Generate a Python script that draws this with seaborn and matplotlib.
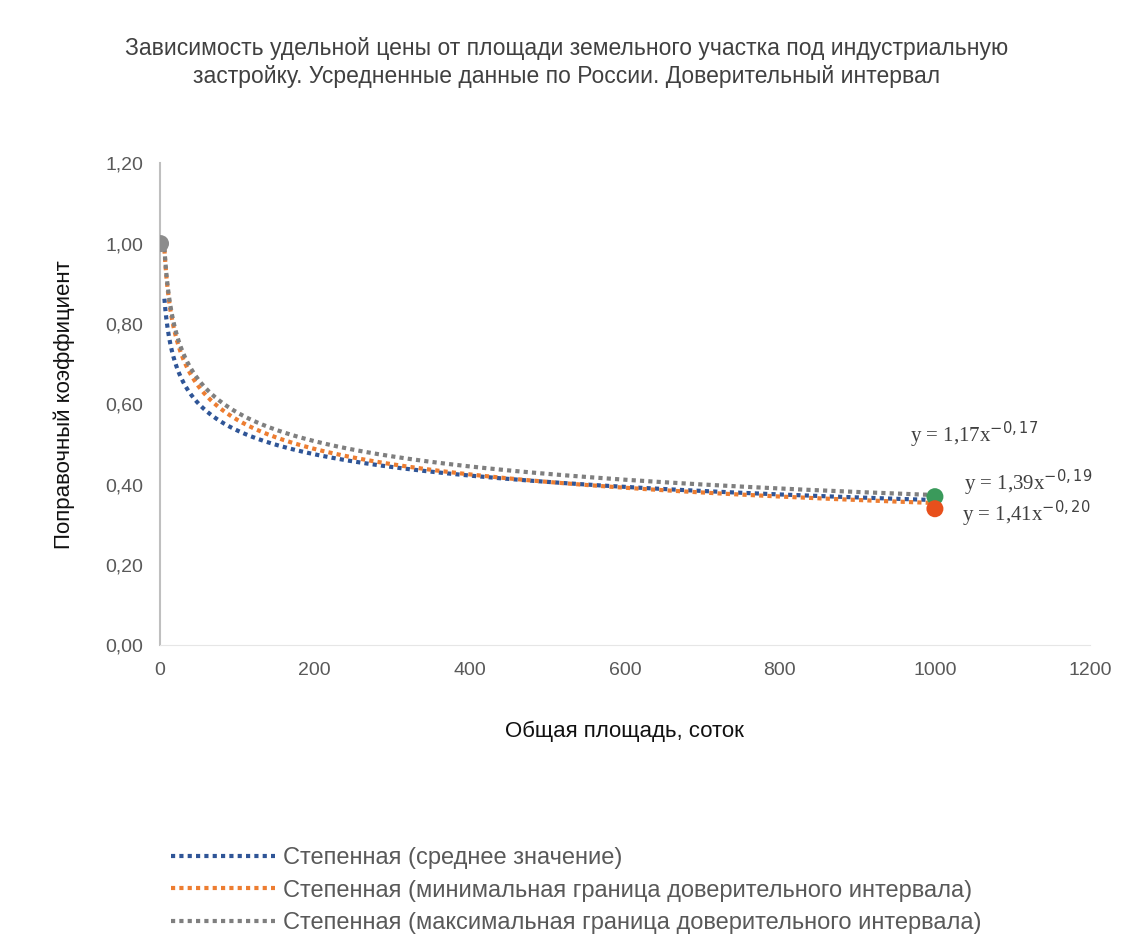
import numpy as np
import pandas as pd
import matplotlib
matplotlib.use("Agg")
import matplotlib.pyplot as plt
import seaborn as sns

# тренды: y = a * x^b
trend_names = ["Степенная (среднее значение)",
               "Степенная (минимальная граница доверительного интервала)",
               "Степенная (максимальная граница доверительного интервала)"]
trend_a = [1.17, 1.41, 1.39]
trend_b = [-0.17, -0.20, -0.19]
trend_colors = ["#2F5597", "#ED7D31", "#7F7F7F"]
x_start = 6
x_end = 1000

# исходные точки
point_x = [1, 1000, 1000]
point_y = [1.00, 0.37, 0.34]
point_colors = ["#8C8C8C", "#3A9A5B", "#E8501C"]

eq_texts = ["y = 1,17x$^{-0,17}$", "y = 1,39x$^{-0,19}$", "y = 1,41x$^{-0,20}$"]
eq_x = [968, 1038, 1035]
eq_y = [0.505, 0.385, 0.31]

sns.set_style("white")
plt.rcParams['font.family'] = ['Liberation Sans Narrow', 'Liberation Sans', 'DejaVu Sans']

rows = []
for name, a, b in zip(trend_names, trend_a, trend_b):
    xs = np.geomspace(x_start, x_end, 300)
    for x in xs:
        rows.append({"x": x, "y": a * x ** b, "series": name})
df = pd.DataFrame(rows)

fig = plt.figure(figsize=(11.33, 9.49), dpi=100)
ax = fig.add_axes([0.141, 0.320, 0.821, 0.508])

sns.lineplot(data=df, x="x", y="y", hue="series", palette=trend_colors,
             linewidth=3, ax=ax, legend=False, sort=False)
for line in ax.get_lines():
    line.set_linestyle((0, (1, 1)))

pts = pd.DataFrame({"x": point_x, "y": point_y, "c": point_colors})
sns.scatterplot(data=pts, x="x", y="y", hue="c", palette=point_colors,
                s=150, edgecolor="none", ax=ax, legend=False, zorder=5)

ax.set_xlim(0, 1200)
ax.set_ylim(0, 1.2)
ax.set_xticks(range(0, 1201, 200))
ax.set_yticks(np.arange(0, 1.21, 0.2))
ax.set_yticklabels([f"{v:.2f}".replace(".", ",") for v in np.arange(0, 1.21, 0.2)])
ax.tick_params(axis="both", length=0, labelsize=14, labelcolor="#595959", pad=12)
for s in ["top", "right"]:
    ax.spines[s].set_visible(False)
ax.spines["left"].set_color("#BFBFBF")
ax.spines["left"].set_linewidth(1.5)
ax.spines["bottom"].set_color("#E6E6E6")

ax.set_xlabel("Общая площадь, соток", fontsize=16, color="#111111", labelpad=30)
ax.set_ylabel("Поправочный коэффициент", fontsize=16, color="#111111", labelpad=22)

for t, x, y in zip(eq_texts, eq_x, eq_y):
    ax.text(x, y, t, fontsize=15, color="#404040", family=['Liberation Serif', 'DejaVu Serif'])

fig.text(0.5, 0.934, "Зависимость удельной цены от площади земельного участка под индустриальную\n"
         "застройку. Усредненные данные по России. Доверительный интервал",
         ha="center", va="center", fontsize=16.5, color="#404040", linespacing=1.3)

handles = [plt.Line2D([], [], color=c, linewidth=3, linestyle=(0, (1, 1))) for c in trend_colors]
fig.legend(handles, trend_names, loc="upper left", bbox_to_anchor=(0.132, 0.13),
           frameon=False, fontsize=17, handlelength=4.4, handletextpad=0.35,
           labelspacing=0.45, labelcolor="#595959")

fig.savefig("out.png", dpi=100)
